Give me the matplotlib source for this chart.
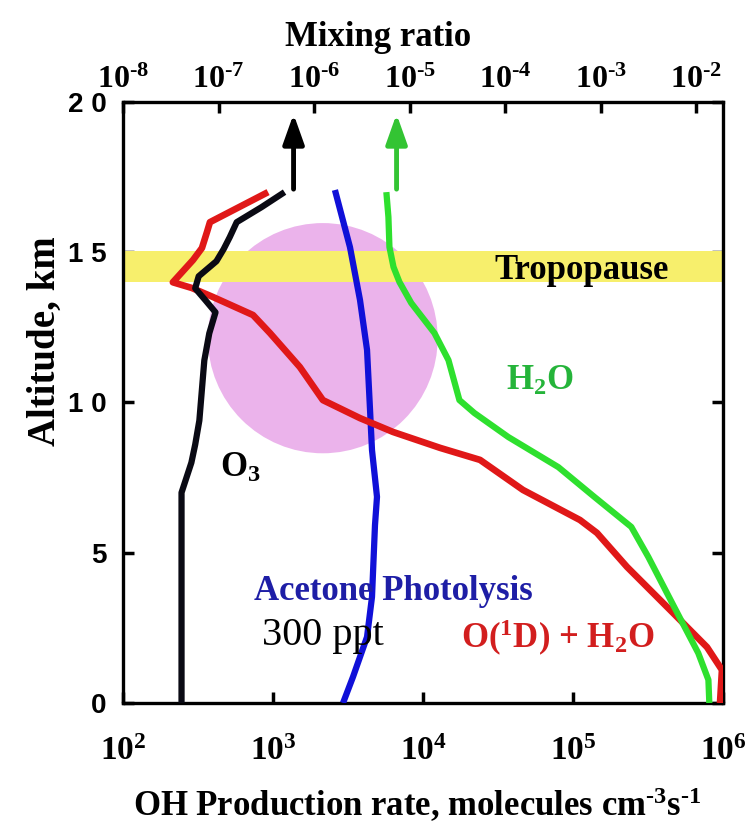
import matplotlib
matplotlib.use("Agg")
import matplotlib.pyplot as plt
from matplotlib.patches import Ellipse
import numpy as np

plt.rcParams['font.family'] = ['Liberation Serif', 'DejaVu Serif']
plt.rcParams['font.weight'] = 'bold'
plt.rcParams['mathtext.fontset'] = 'custom'
plt.rcParams['mathtext.rm'] = 'Liberation Serif:bold'
plt.rcParams['mathtext.bf'] = 'Liberation Serif:bold'
plt.rcParams['mathtext.it'] = 'Liberation Serif:bold'
plt.rcParams['mathtext.default'] = 'rm'

# ---------------- data ----------------
# O3 mixing ratio (ppb) vs altitude (km)  -> top axis
o3_alt = [0.0, 7.0, 8.0, 8.6, 9.4, 11.4, 12.3, 13.0, 13.4, 13.8, 14.2, 14.7, 15.1, 15.5, 16.0, 16.5, 17.0]
o3_ppb = [41, 41, 52, 57, 63, 71, 80, 93, 73, 57, 62, 95, 113, 131, 155, 282, 491]

# H2O mixing ratio vs altitude (km) -> top axis
h2o_alt = [0.0, 0.77, 1.66, 3.19, 4.86, 5.86, 6.86, 7.85, 8.85, 9.65, 10.08, 11.41, 12.31, 13.31, 14.01, 14.51, 15.17, 16.17, 17.0]
h2o_mix = [1.37e-2, 1.34e-2, 1.05e-2, 5.89e-3, 3.15e-3, 2.09e-3, 8.57e-4, 3.60e-4, 1.08e-4, 4.76e-5,
           3.32e-5, 2.55e-5, 1.82e-5, 1.04e-5, 7.82e-6, 6.78e-6, 6.15e-6, 6.0e-6, 5.71e-6]

# OH production from O(1D)+H2O (molecules cm-3 s-1) -> bottom axis
o1d_alt = [0.0, 1.10, 1.86, 3.0, 4.53, 5.66, 6.09, 7.09, 8.09, 8.49, 9.02, 9.48, 10.08, 11.18, 12.31,
           12.91, 13.51, 13.81, 14.0, 14.74, 15.14, 15.67, 16.0, 17.0]
o1d_rate = [9.55e5, 9.84e5, 7.82e5, 4.64e5, 2.29e5, 1.445e5, 1.113e5, 4.64e4, 2.40e4, 1.30e4, 6310, 3800,
            2150, 1510, 955, 736, 398, 288, 215, 293, 336, 363, 380, 927]

# OH production from acetone photolysis (300 ppt) -> bottom axis
acet_alt = [0.0, 0.87, 2.20, 3.53, 5.92, 6.86, 8.42, 9.75, 11.75, 13.41, 15.17, 17.07]
acet_rate = [2930, 3415, 4236, 4571, 4786, 4936, 4571, 4436, 4236, 3802, 3260, 2588]

# arrows (mixing ratio positions) and altitude range
arrow_mix = [6.1e-7, 7.3e-6]
arrow_alt = [17.1, 19.6]

# tropopause band (km) and ticks
tropo_band = [14.0, 15.05]
y_ticks = [0, 5, 10, 15, 20]
y_ticklabels = ['0', '5', '1 0', '1 5', '2 0']
bot_ticks = [1e2, 1e3, 1e4, 1e5, 1e6]
bot_ticklabels = [r'$10^{2}$', r'$10^{3}$', r'$10^{4}$', r'$10^{5}$', r'$10^{6}$']
top_ticks = [1e-8, 1e-7, 1e-6, 1e-5, 1e-4, 1e-3, 1e-2]
top_ticklabels = [r'$10^{\text{-}8}$', r'$10^{\text{-}7}$', r'$10^{\text{-}6}$', r'$10^{\text{-}5}$',
                  r'$10^{\text{-}4}$', r'$10^{\text{-}3}$', r'$10^{\text{-}2}$']

# ---------------- figure ----------------
fig = plt.figure(figsize=(7.54, 8.31), dpi=100)
ax = fig.add_axes([0.1631, 0.1540, 0.7958, 0.7233])
ax.set_xscale('log')
ax.set_xlim(1e2, 1e6)
ax.set_ylim(0, 20)

# pink circle (in axes coords)
ax.add_patch(Ellipse((0.333, 0.607), 0.383, 0.383, transform=ax.transAxes,
                     facecolor='#e8a6e8', edgecolor='none', alpha=0.85, zorder=1))
# tropopause band
ax.axhspan(tropo_band[0], tropo_band[1], color='#f7ef6c', zorder=2, lw=0)

ax.plot(acet_rate, acet_alt, color='#1010d8', lw=4.5, zorder=4, solid_capstyle='butt')
ax.plot(o1d_rate, o1d_alt, color='#e01818', lw=4.8, zorder=5, solid_capstyle='butt')

ax.set_xticks(bot_ticks)
ax.set_xticklabels(bot_ticklabels)
ax.xaxis.set_minor_locator(matplotlib.ticker.NullLocator())
ax.tick_params(axis='x', which='major', direction='in', length=8, width=2.5, pad=24,
               labelsize=24, top=False)
ax.set_yticks(y_ticks)
ax.set_yticklabels(y_ticklabels, fontfamily='Liberation Sans', fontweight='bold', fontsize=20)
ax.tick_params(axis='y', which='major', direction='in', length=8, width=2.5, pad=12,
               left=True, right=True)
for s in ax.spines.values():
    s.set_linewidth(2.4)

# top axis: mixing ratio
ax2 = ax.twiny()
ax2.set_xscale('log')
ax2.set_xlim(10 ** -7.99, 10 ** -1.72)
ax2.set_ylim(0, 20)
ax2.plot(np.array(h2o_mix), h2o_alt, color='#2ee02e', lw=4.5, zorder=3, solid_capstyle='butt')
ax2.plot(np.array(o3_ppb) * 1e-9, o3_alt, color='#0a0a14', lw=4.5, zorder=4, solid_capstyle='butt')
for xm, col in zip(arrow_mix, ['black', '#33c433']):
    ax2.annotate('', xy=(xm, arrow_alt[1]), xytext=(xm, arrow_alt[0]),
                 arrowprops=dict(arrowstyle='-|>,head_length=0.9,head_width=0.32',
                                 color=col, lw=3.5, mutation_scale=20,
                                 shrinkA=0, shrinkB=0))
ax2.set_xticks(top_ticks)
ax2.set_xticklabels(top_ticklabels)
ax2.tick_params(axis='x', which='major', direction='in', length=8, width=2.5, pad=5,
                labelsize=23)
ax2.tick_params(axis='x', which='minor', direction='in', length=4, width=1.2)
for s in ax2.spines.values():
    s.set_visible(False)

# texts
ax.text(0.765, 0.72, 'Tropopause', transform=ax.transAxes, fontsize=25,
        ha='center', va='center', color='black', zorder=6)
ax.text(0.695, 0.535, r'H$_2$O', transform=ax.transAxes, fontsize=25,
        ha='center', va='center', color='#25b43a', zorder=6)
ax.text(0.195, 0.39, r'O$_3$', transform=ax.transAxes, fontsize=25,
        ha='center', va='center', color='black', zorder=6)
ax.text(0.45, 0.186, 'Acetone Photolysis', transform=ax.transAxes, fontsize=25,
        ha='center', va='center', color='#1e1ea6', zorder=6)
ax.text(0.333, 0.113, '300 ppt', transform=ax.transAxes, fontsize=29,
        fontweight='normal', ha='center', va='center', color='black', zorder=6)
ax.text(0.725, 0.108, r'O($^{1}$D) + H$_2$O', transform=ax.transAxes, fontsize=25,
        ha='center', va='center', color='#d21e1e', zorder=6)

fig.text(0.501, 0.955, 'Mixing ratio', fontsize=25, ha='center', va='center')
fig.text(0.554, 0.031, r'OH Production rate, molecules cm$^{\text{-}3}$s$^{\text{-}1}$', fontsize=25,
         ha='center', va='center')
fig.text(0.06, 0.59, 'Altitude, km', fontsize=28, ha='center', va='center', rotation=90)

fig.savefig('out.png', dpi=100)
